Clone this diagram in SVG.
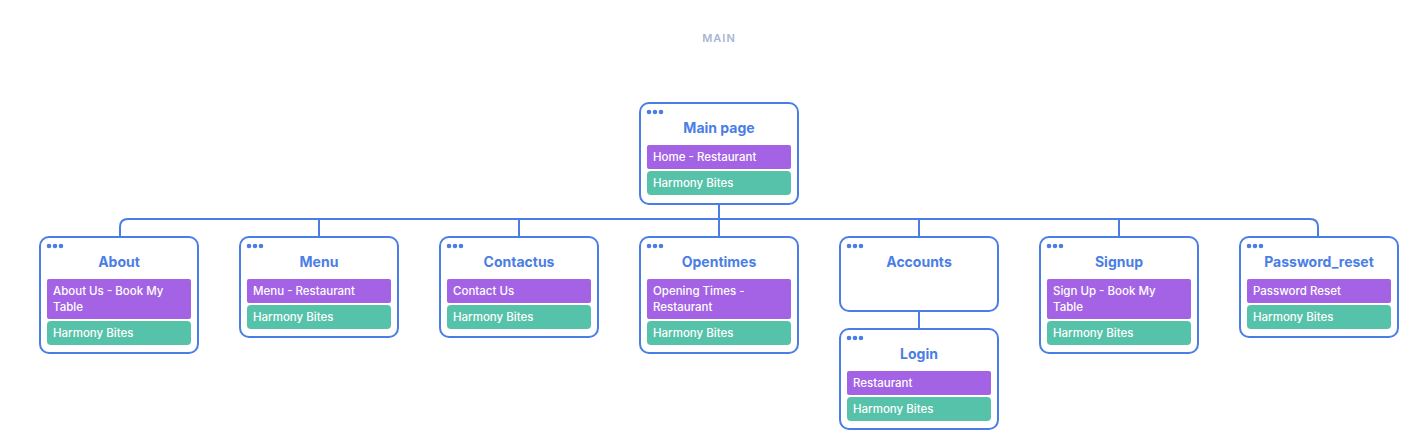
<svg xmlns="http://www.w3.org/2000/svg" width="1414" height="439" viewBox="0 0 1414 439">
<style>
.box{fill:#fff;stroke:#4a7ee6;stroke-width:2}
.t{font-family:Inter,"Liberation Sans",sans-serif;font-weight:700;font-size:14px;fill:#4a7ee6;text-anchor:middle}
.p{fill:#a463e4}
.g{fill:#55c2a9}
.b{font-family:Inter,"Liberation Sans",sans-serif;font-size:11.5px;font-weight:500;fill:#fff}
.d{fill:#4a7ee6}
.c{fill:none;stroke:#4a7ee6;stroke-width:2}
</style>
<defs>
<g id="dots"><circle cx="0" cy="0" r="2.3" class="d"/><circle cx="6" cy="0" r="2.3" class="d"/><circle cx="12" cy="0" r="2.3" class="d"/></g>
</defs>
<rect width="1414" height="439" fill="#fff"/>
<text x="719" y="42" font-family="Inter,'Liberation Sans',sans-serif" font-size="11" font-weight="600" fill="#a9b6d0" text-anchor="middle" letter-spacing="1">MAIN</text>
<g id="connectors">
<path class="c" d="M719 204V219"/>
<path class="c" d="M120 237V227Q120 219 128 219H1310Q1318 219 1318 227V237"/>
<path class="c" d="M319 219V237M519 219V237M719 219V237M919 219V237M1119 219V237"/>
<path class="c" d="M919 311V329"/>
</g>
<g id="main">
<rect class="box" x="640" y="103" width="158" height="101" rx="9"/>
<use href="#dots" x="649" y="112"/>
<text class="t" x="719" y="133">Main page</text>
<rect class="p" x="647" y="145" width="144" height="24" rx="2"/>
<text class="b" x="653" y="161">Home - Restaurant</text>
<rect class="g" x="647" y="171" width="144" height="24" rx="4"/>
<text class="b" x="653" y="187">Harmony Bites</text>
</g>
<g id="about">
<rect class="box" x="40" y="237" width="158" height="116" rx="9"/>
<use href="#dots" x="49" y="246"/>
<text class="t" x="119" y="267">About</text>
<rect class="p" x="47" y="279" width="144" height="40" rx="2"/>
<text class="b" x="53" y="295">About Us - Book My</text>
<text class="b" x="53" y="311">Table</text>
<rect class="g" x="47" y="321" width="144" height="24" rx="4"/>
<text class="b" x="53" y="337">Harmony Bites</text>
</g>
<g id="menu">
<rect class="box" x="240" y="237" width="158" height="100" rx="9"/>
<use href="#dots" x="249" y="246"/>
<text class="t" x="319" y="267">Menu</text>
<rect class="p" x="247" y="279" width="144" height="24" rx="2"/>
<text class="b" x="253" y="295">Menu - Restaurant</text>
<rect class="g" x="247" y="305" width="144" height="24" rx="4"/>
<text class="b" x="253" y="321">Harmony Bites</text>
</g>
<g id="contactus">
<rect class="box" x="440" y="237" width="158" height="100" rx="9"/>
<use href="#dots" x="449" y="246"/>
<text class="t" x="519" y="267">Contactus</text>
<rect class="p" x="447" y="279" width="144" height="24" rx="2"/>
<text class="b" x="453" y="295">Contact Us</text>
<rect class="g" x="447" y="305" width="144" height="24" rx="4"/>
<text class="b" x="453" y="321">Harmony Bites</text>
</g>
<g id="opentimes">
<rect class="box" x="640" y="237" width="158" height="116" rx="9"/>
<use href="#dots" x="649" y="246"/>
<text class="t" x="719" y="267">Opentimes</text>
<rect class="p" x="647" y="279" width="144" height="40" rx="2"/>
<text class="b" x="653" y="295">Opening Times -</text>
<text class="b" x="653" y="311">Restaurant</text>
<rect class="g" x="647" y="321" width="144" height="24" rx="4"/>
<text class="b" x="653" y="337">Harmony Bites</text>
</g>
<g id="accounts">
<rect class="box" x="840" y="237" width="158" height="74" rx="9"/>
<use href="#dots" x="849" y="246"/>
<text class="t" x="919" y="267">Accounts</text>
</g>
<g id="login">
<rect class="box" x="840" y="329" width="158" height="100" rx="9"/>
<use href="#dots" x="849" y="338"/>
<text class="t" x="919" y="359">Login</text>
<rect class="p" x="847" y="371" width="144" height="24" rx="2"/>
<text class="b" x="853" y="387">Restaurant</text>
<rect class="g" x="847" y="397" width="144" height="24" rx="4"/>
<text class="b" x="853" y="413">Harmony Bites</text>
</g>
<g id="signup">
<rect class="box" x="1040" y="237" width="158" height="116" rx="9"/>
<use href="#dots" x="1049" y="246"/>
<text class="t" x="1119" y="267">Signup</text>
<rect class="p" x="1047" y="279" width="144" height="40" rx="2"/>
<text class="b" x="1053" y="295">Sign Up - Book My</text>
<text class="b" x="1053" y="311">Table</text>
<rect class="g" x="1047" y="321" width="144" height="24" rx="4"/>
<text class="b" x="1053" y="337">Harmony Bites</text>
</g>
<g id="password_reset">
<rect class="box" x="1240" y="237" width="158" height="100" rx="9"/>
<use href="#dots" x="1249" y="246"/>
<text class="t" x="1319" y="267">Password_reset</text>
<rect class="p" x="1247" y="279" width="144" height="24" rx="2"/>
<text class="b" x="1253" y="295">Password Reset</text>
<rect class="g" x="1247" y="305" width="144" height="24" rx="4"/>
<text class="b" x="1253" y="321">Harmony Bites</text>
</g>
</svg>
